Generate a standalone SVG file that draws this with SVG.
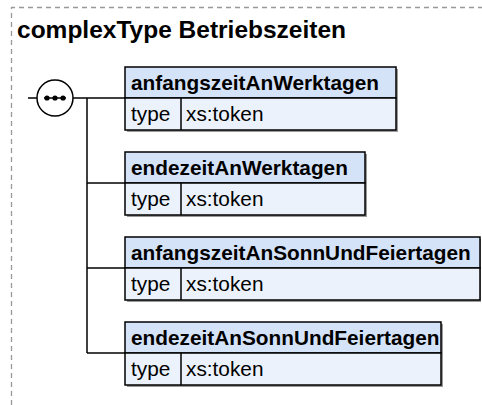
<svg xmlns="http://www.w3.org/2000/svg" width="482" height="405" viewBox="0 0 482 405">
<style>
.frame{fill:none;stroke:#999;stroke-width:1.3;stroke-dasharray:5,4}
.title{font-family:"Liberation Sans",Arial,sans-serif;font-weight:bold;font-size:24.5px;fill:#000}
.conn{fill:none;stroke:#000;stroke-width:1.5}
.shadow{fill:#9a9a9a}
.hdr{fill:#d5e3f8;stroke:#000;stroke-width:1.5}
.row{fill:#ebf2fc;stroke:#000;stroke-width:1.5}
.name{font-family:"Liberation Sans",Arial,sans-serif;font-weight:bold;font-size:20.8px;fill:#000}
.txt{font-family:"Liberation Sans",Arial,sans-serif;font-size:20.8px;fill:#000}
.seq{fill:#fff;stroke:#000;stroke-width:1.5}
</style>
<path class="frame" d="M11.5,405 V7.5 H482"/>
<text class="title" x="17" y="38">complexType Betriebszeiten</text>

<g id="connectors">
<path class="conn" d="M28,98 H37"/>
<path class="conn" d="M73,98 H125"/>
<path class="conn" d="M87,98 V353"/>
<path class="conn" d="M87,183 H125"/>
<path class="conn" d="M87,268 H125"/>
<path class="conn" d="M87,353 H125"/>
</g>

<g id="sequence">
<circle class="seq" cx="55" cy="98" r="18"/>
<path d="M44,98 H66" stroke="#000" stroke-width="1.5"/>
<circle cx="47" cy="98" r="2.6" fill="#000"/>
<circle cx="55" cy="98" r="2.6" fill="#000"/>
<circle cx="63" cy="98" r="2.6" fill="#000"/>
</g>

<g id="anfangszeitAnWerktagen">
<rect class="shadow" x="127" y="69" width="271" height="63"/>
<rect class="hdr" x="125" y="67" width="271" height="31"/>
<rect class="row" x="125" y="98" width="271" height="32"/>
<line x1="181" y1="98" x2="181" y2="130" stroke="#000" stroke-width="1.5"/>
<text class="name" x="131" y="90">anfangszeitAnWerktagen</text>
<text class="txt" x="131" y="121">type</text>
<text class="txt" x="186" y="121">xs:token</text>
</g>

<g id="endezeitAnWerktagen">
<rect class="shadow" x="127" y="154" width="240" height="63"/>
<rect class="hdr" x="125" y="152" width="240" height="31"/>
<rect class="row" x="125" y="183" width="240" height="32"/>
<line x1="181" y1="183" x2="181" y2="215" stroke="#000" stroke-width="1.5"/>
<text class="name" x="131" y="175">endezeitAnWerktagen</text>
<text class="txt" x="131" y="206">type</text>
<text class="txt" x="186" y="206">xs:token</text>
</g>

<g id="anfangszeitAnSonnUndFeiertagen">
<rect class="shadow" x="127" y="239" width="354" height="63"/>
<rect class="hdr" x="125" y="237" width="355" height="31"/>
<rect class="row" x="125" y="268" width="355" height="32"/>
<line x1="181" y1="268" x2="181" y2="300" stroke="#000" stroke-width="1.5"/>
<text class="name" x="131" y="260">anfangszeitAnSonnUndFeiertagen</text>
<text class="txt" x="131" y="291">type</text>
<text class="txt" x="186" y="291">xs:token</text>
</g>

<g id="endezeitAnSonnUndFeiertagen">
<rect class="shadow" x="127" y="324" width="316" height="63"/>
<rect class="hdr" x="125" y="322" width="316" height="31"/>
<rect class="row" x="125" y="353" width="316" height="32"/>
<line x1="181" y1="353" x2="181" y2="385" stroke="#000" stroke-width="1.5"/>
<text class="name" x="131" y="345">endezeitAnSonnUndFeiertagen</text>
<text class="txt" x="131" y="376">type</text>
<text class="txt" x="186" y="376">xs:token</text>
</g>
</svg>
